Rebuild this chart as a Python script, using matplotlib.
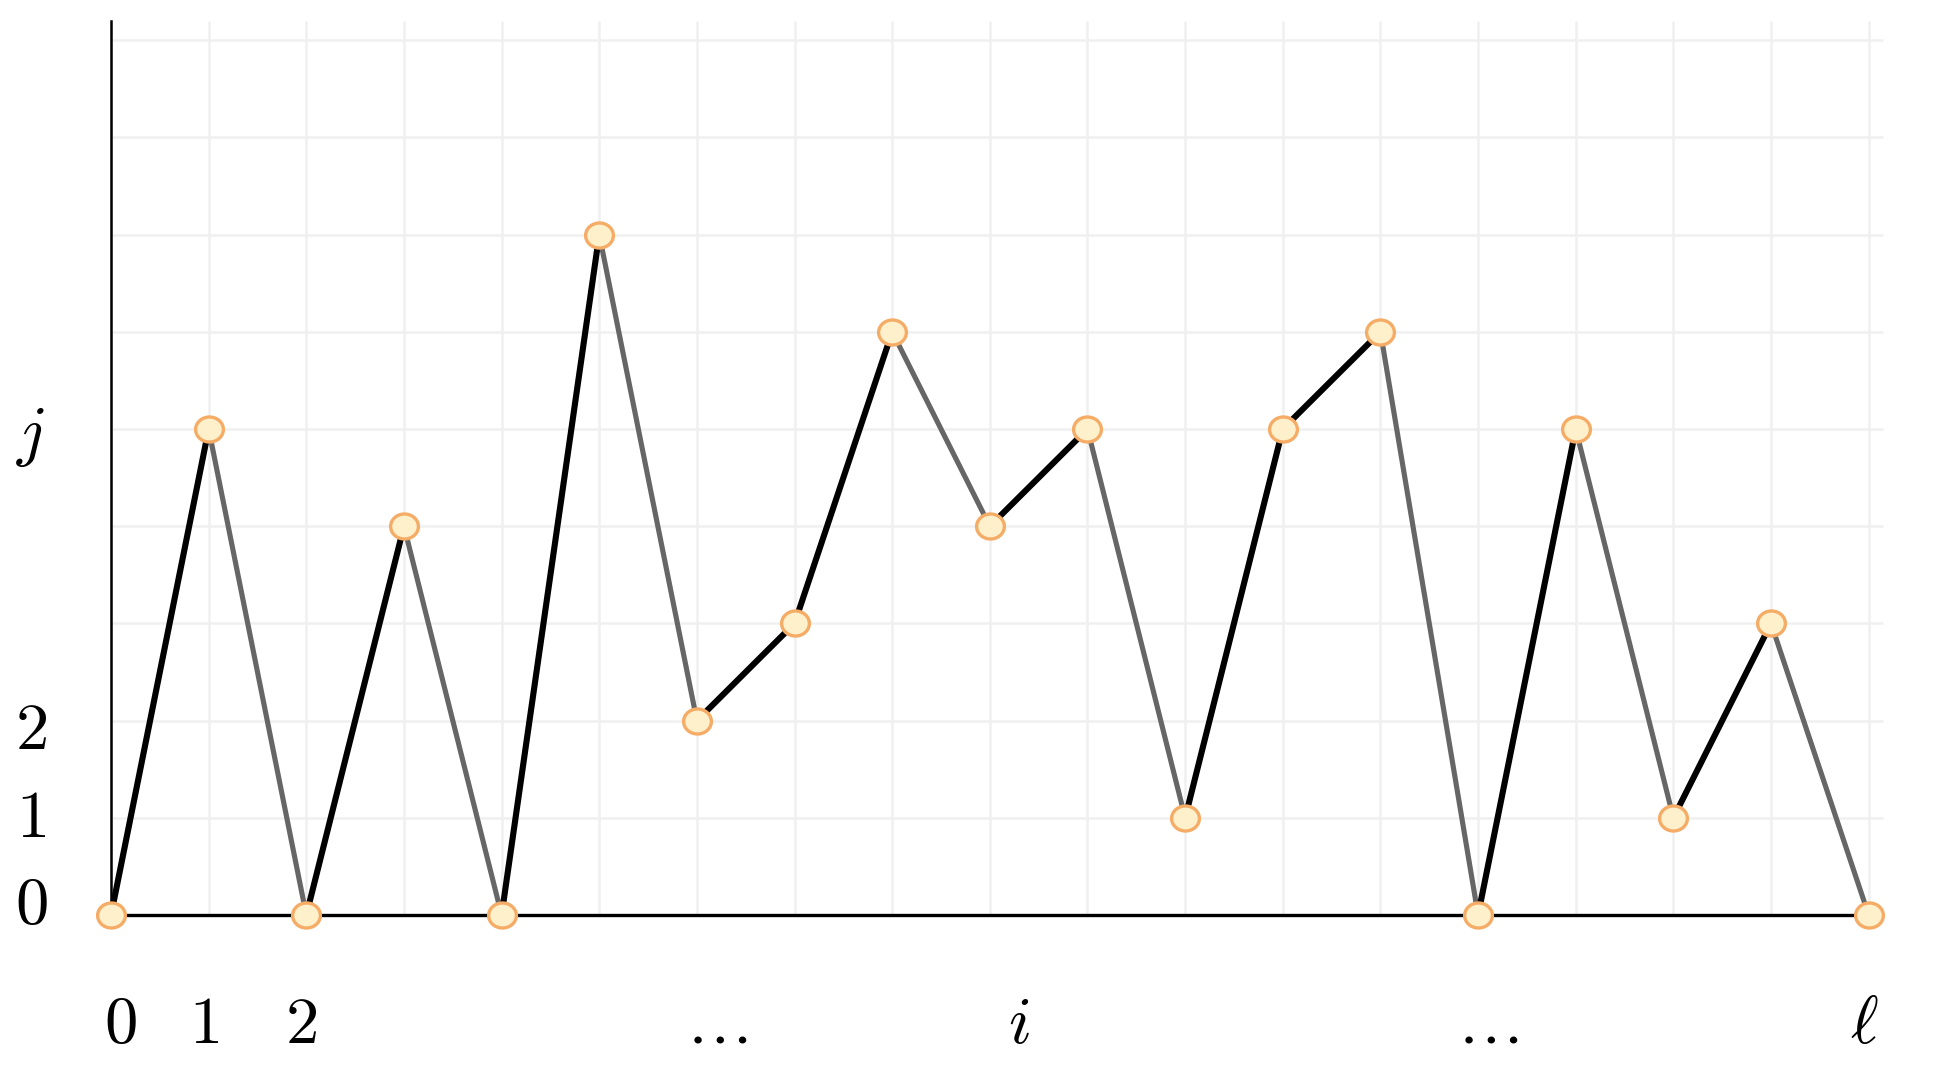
import numpy as np
import matplotlib.pyplot as plt
from matplotlib.path import Path

plt.rcParams['mathtext.fontset'] = 'cm'

# path heights at each step i = 0..18
steps = list(range(19))
heights = [0, 5, 0, 4, 0, 7, 2, 3, 6, 4, 5, 1, 5, 6, 0, 5, 1, 3, 0]

x_label_pos = [0.1, 0.95, 1.95, 6.2, 9.3, 14.1, 17.95]
x_label_txt = [r'$0$', r'$1$', r'$2$', r'$\ldots$', r'$i$', r'$\ldots$', r'$\ell$']
y_label_pos = [0.1, 1.0, 1.9, 4.93]
y_label_txt = [r'$0$', r'$1$', r'$2$', r'$j$']

fig = plt.figure(figsize=(19.38, 10.68), dpi=100)
ax = fig.add_axes([0, 0, 1, 1])
ax.set_xlim(-1.137, 18.71)
ax.set_ylim(-1.574, 9.414)
ax.axis('off')

grid_col = '#f0f0f0'
ax.vlines(steps, 0, 9.2, color=grid_col, lw=1.8, zorder=0)
ax.hlines(range(1, 10), 0, 18.15, color=grid_col, lw=1.8, zorder=0)

# axes lines
ax.plot([0, 0], [0, 9.2], color='black', lw=1.8, zorder=1)
ax.plot([0, 18], [0, 0], color='black', lw=2.4, zorder=1)

# up steps black, down steps gray
for k in range(len(steps) - 1):
    up = heights[k + 1] > heights[k]
    ax.plot(steps[k:k + 2], heights[k:k + 2],
            color='black' if up else '#666666', lw=4.4 if up else 3.7,
            solid_capstyle='butt', zorder=2)

# slightly wide ellipse marker
t = np.linspace(0, 2 * np.pi, 60)
ellipse = Path(np.column_stack([np.cos(t), 0.9 * np.sin(t)]), closed=True)
ax.plot(steps, heights, linestyle='none', marker=ellipse, markersize=20,
        markerfacecolor='#fff0cc', markeredgecolor='#f5ac66',
        markeredgewidth=2.4, zorder=3)

for x, s in zip(x_label_pos, x_label_txt):
    ax.text(x, -1.12, s, fontsize=48, ha='center', va='center')
for y, s in zip(y_label_pos, y_label_txt):
    ax.text(-0.82, y, s, fontsize=48, ha='center', va='center')

fig.savefig('out.png', dpi=100)
